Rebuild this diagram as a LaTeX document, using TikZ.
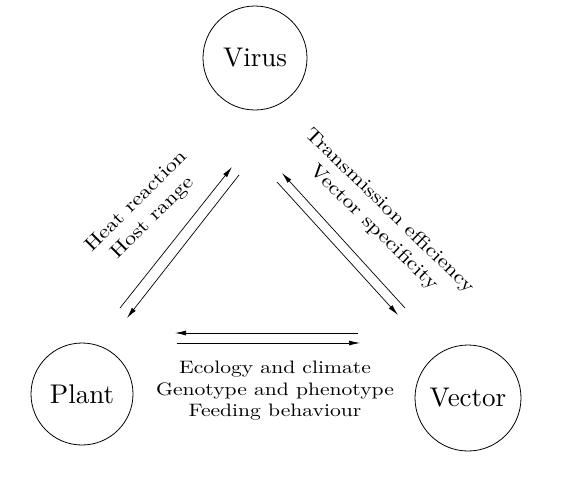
\documentclass[tikz,border=0pt]{standalone}
\usepackage{fontspec}
\setmainfont{lmroman10-regular.otf}
\usepackage{tikz}
\usetikzlibrary{
	positioning,    % posizionamento dei nodi
	arrows.meta     % punte di freccia
}

\begin{document}
\begin{tikzpicture}[>={Latex[length=11pt, width=5pt]}, x=1pt, y=-1pt,
	agente/.style={circle, draw, line width=0.8pt, minimum size=104pt, inner sep=0pt, font=\fontsize{27}{30}\selectfont},
	fattore/.style={align=center, xscale=1.2, font=\fontsize{18}{21.5}\selectfont},
	obliquo/.style={fattore, font=\fontsize{19}{23}\selectfont},
	flusso/.style={->, line width=0.7pt}]
		% Area del disegno (coordinate in pixel)
		\useasboundingbox (0,0) rectangle (577,480);
		
		% --- Nodi ---
		\node[agente] (virus) at (255,58) {Virus};
		\node[agente, minimum size=102pt] (plant) at (82,394) {Plant};
		\node[agente, minimum size=106pt] (vector) at (468,398) {Vector};
		
		% --- Estremi delle frecce ---
		% Pianta - Virus
		\coordinate (pvA) at (120,308);
		\coordinate (pvB) at (232,167);
		\coordinate (vpA) at (239,175);
		\coordinate (vpB) at (127,318);
		% Virus - Vettore
		\coordinate (vvA) at (405,308);
		\coordinate (vvB) at (282,173);
		\coordinate (vvC) at (277,182);
		\coordinate (vvD) at (398,315);
		% Pianta - Vettore
		\coordinate (pwA) at (358,333);
		\coordinate (pwB) at (175,333);
		\coordinate (pwC) at (177,343);
		\coordinate (pwD) at (360,343);
		
		% --- Frecce ---
		\draw[flusso] (pvA) -- (pvB);
		\draw[flusso] (vpA) -- (vpB);
		\draw[flusso] (vvA) -- (vvB);
		\draw[flusso] (vvC) -- (vvD);
		\draw[flusso] (pwA) -- (pwB);
		\draw[flusso] (pwC) -- (pwD);
		
		% --- Etichette ---
		% rotazione prima, poi allargamento del testo
		\node[rotate=45, obliquo] (host) at (144.5,210) {Heat reaction\\Host range};
		\node[rotate=-44.2, obliquo] (trans) at (382,219.5) {Transmission efficiency\\Vector specificity};
		\node[fattore] (ecol) at (275,391) {Ecology and climate\\Genotype and phenotype\\Feeding behaviour};
	\end{tikzpicture}
\end{document}
